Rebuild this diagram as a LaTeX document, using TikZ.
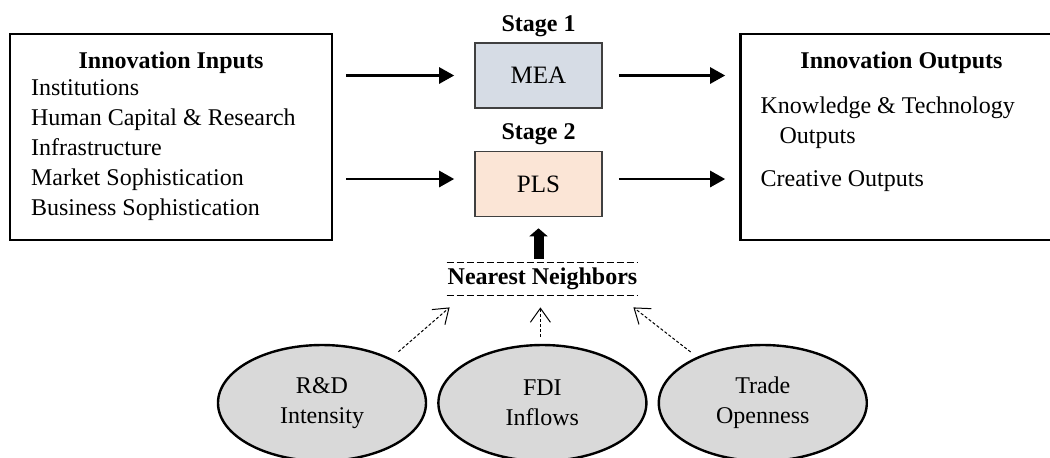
\documentclass[tikz,border=0pt]{standalone}
\usepackage{fontspec}
\setmainfont{Liberation Serif}
\usetikzlibrary{arrows.meta,positioning,shapes.geometric}
\definecolor{MeaBlue}{HTML}{D6DCE5}
\definecolor{PlsPeach}{HTML}{FBE5D6}
\definecolor{FactorGray}{HTML}{D9D9D9}

\begin{document}
\begin{tikzpicture}[x=0.5pt, y=-0.5pt, every node/.style={font=\fontsize{12}{15}\selectfont},
  panel/.style={draw, line width=1.3pt, minimum width=161pt, minimum height=103pt, inner sep=0pt},
  model/.style={draw=black!75, line width=0.8pt, minimum width=63.5pt, minimum height=32.5pt, font=\fontsize{12.5}{15}\selectfont},
  factor/.style={ellipse, draw, line width=1.2pt, fill=FactorGray, minimum width=104pt, minimum height=58pt, align=center, inner sep=0pt},
  head/.style={font=\fontsize{12}{15}\selectfont\bfseries, anchor=base},
  item/.style={anchor=base west, inner sep=0pt},
  flow/.style={-{Triangle[length=7.5pt,width=8pt]}, line width=1.3pt},
  feed/.style={-{Straight Barb[length=7pt,width=10pt]}, line width=0.5pt, dash pattern=on 1.5pt off 1pt}]
\useasboundingbox (0,0) rectangle (1050,457);

% input and output panels
\node[panel] (inputs) at (171,137) {};
\node[panel] (outputs) at (901.5,137) {};
\node[head] (intitle) at ([yshift=-18pt]inputs.north) {Innovation Inputs};
\foreach \txt [count=\i] in {Institutions, Human Capital \& Research, Infrastructure, Market Sophistication, Business Sophistication}
  \node[item] (in\i) at ([shift={(11pt,{-31.5pt-15pt*(\i-1)})}]inputs.north west) {\txt};
\node[head] (outtitle) at ([yshift=-18pt]outputs.north) {Innovation Outputs};
\node[item] (kt) at ([shift={(10.5pt,-40.5pt)}]outputs.north west) {Knowledge \& Technology};
\node[item] (ktout) at ([shift={(20pt,-55.5pt)}]outputs.north west) {Outputs};
\node[item] (creative) at ([shift={(10.5pt,-77pt)}]outputs.north west) {Creative Outputs};

% the two stages
\node[model, fill=MeaBlue] (mea) at (538.5,75.5) {MEA};
\node[model, fill=PlsPeach] (pls) at (538.5,184) {PLS};
\node[head] (stage1) at ([yshift=5.5pt]mea.north) {Stage 1};
\node[head] (stage2) at ([yshift=5.5pt]pls.north) {Stage 2};

% neighbour selection
\node[font=\fontsize{12}{15}\selectfont\bfseries, minimum width=95.5pt, minimum height=16pt, inner sep=0pt] (nn) at (542.5,279) {Nearest Neighbors};
\draw[line width=0.8pt, dash pattern=on 3.5pt off 1.5pt] (nn.north west) -- (nn.north east) (nn.south west) -- (nn.south east);

\node[factor] (rd) at (322,403) {R\&D\\Intensity};
\node[factor, right=5pt of rd] (fdi) {FDI\\Inflows};
\node[factor, right=5pt of fdi] (trade) {Trade\\Openness};

% arrows
\coordinate (row2l) at ([yshift=2.5pt]pls.west);
\coordinate (row2r) at ([yshift=2.5pt]pls.east);
\draw[flow, shorten <=6.5pt, shorten >=10pt] (inputs.east |- mea) -- (mea);
\draw[flow, shorten <=8pt, shorten >=7pt] (mea) -- (outputs.west |- mea);
\draw[flow, shorten <=6.5pt, shorten >=10pt] (inputs.east |- row2l) -- (row2l);
\draw[flow, shorten <=8pt, shorten >=7pt] (row2r) -- (outputs.west |- row2r);
\draw[-{Triangle[length=4pt,width=9pt]}, line width=5pt, shorten <=2pt, shorten >=5.5pt] (nn.north -| pls) -- (pls.south);

\path (nn.south west) ++(3,12) coordinate (tipL);
\path (fdi.north |- nn.south) ++(-2,12) coordinate (tipM);
\path (nn.south east) ++(-5,12) coordinate (tipR);
\draw[feed, shorten <=5pt] (rd.33) -- (tipL);
\draw[feed, shorten <=3.5pt] ([xshift=-1pt]fdi.north) -- (tipM);
\draw[feed, shorten <=4pt] (trade.145) -- (tipR);
\end{tikzpicture}
\end{document}
